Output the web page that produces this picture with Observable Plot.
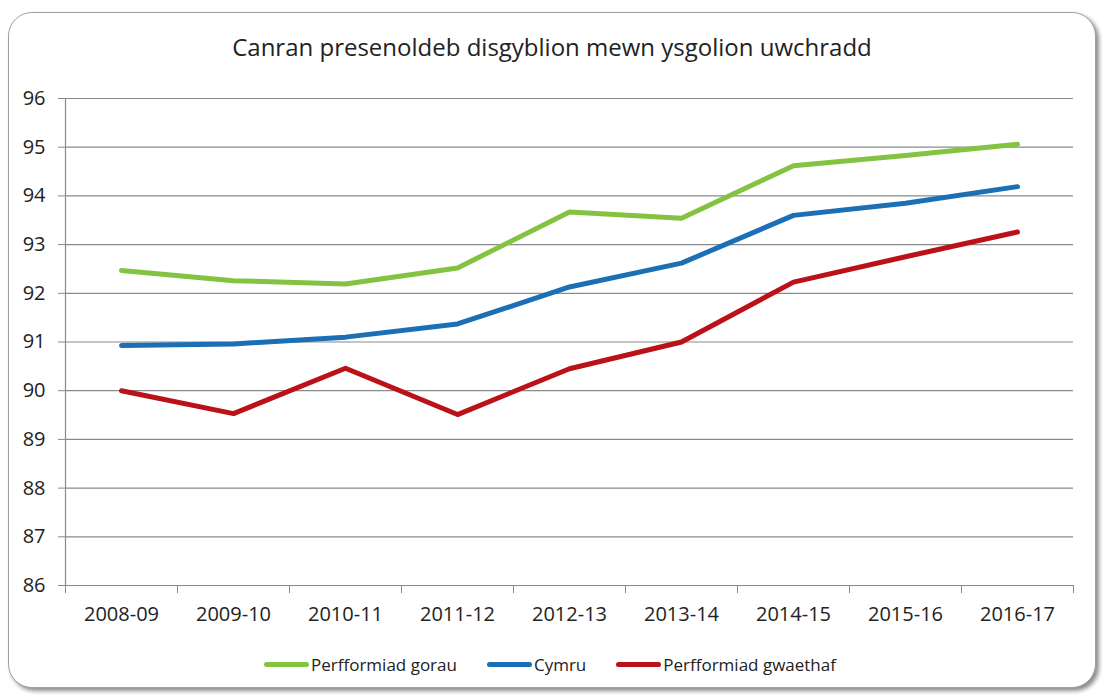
<!DOCTYPE html>
<html>
<head>
<meta charset="utf-8">
<script src="https://cdn.jsdelivr.net/npm/d3@7"></script>
<script src="https://cdn.jsdelivr.net/npm/@observablehq/plot@0.6"></script>
<style>
  html, body { margin: 0; padding: 0; background: #fff; }
  body { width: 1104px; height: 696px; position: relative; overflow: hidden; font-family: "Open Sans", sans-serif; }
  #frame { position: absolute; left: 8px; top: 12px; width: 1086px; height: 674px; border: 1px solid #a0a0a0; border-radius: 24px; box-shadow: 3px 3px 4px rgba(0,0,0,0.45); background: #fff; }
  #title { position: absolute; left: 0; width: 1104px; top: 30px; text-align: center; font-size: 24px; color: #222; }
  #chart { position: absolute; left: 0; top: 0; }
  #legend { position: absolute; left: -2px; width: 1104px; top: 651px; height: 26px; display: flex; justify-content: center; align-items: center; gap: 30px; font-size: 17px; color: #222; }
  .item { display: flex; align-items: center; }
  .sw { width: 45px; height: 5px; border-radius: 3px; margin-right: 2px; }
</style>
</head>
<body>
<div id="frame"></div>
<div id="title"></div>
<div id="chart"></div>
<div id="legend"></div>
<script>
const titleText = "Canran presenoldeb disgyblion mewn ysgolion uwchradd";
const seasons = ["2008-09","2009-10","2010-11","2011-12","2012-13","2013-14","2014-15","2015-16","2016-17"];
const seriesNames = ["Perfformiad gorau", "Cymru", "Perfformiad gwaethaf"];
const seriesColors = ["#84c341", "#1b6fb5", "#bb1118"];
const best  = [92.47, 92.26, 92.19, 92.52, 93.67, 93.54, 94.62, 94.83, 95.06];
const wales = [90.93, 90.96, 91.10, 91.37, 92.13, 92.62, 93.60, 93.85, 94.19];
const worst = [90.00, 89.53, 90.46, 89.51, 90.45, 91.00, 92.23, 92.75, 93.26];
const yTicks = [86, 87, 88, 89, 90, 91, 92, 93, 94, 95, 96];

document.getElementById("title").textContent = titleText;

const allSeries = [best, wales, worst];
const rows = [];
allSeries.forEach((vals, s) => vals.forEach((v, i) => rows.push({series: seriesNames[s], i, v})));
const idx = seasons.map((d, i) => i);
const bounds = [...idx.map(i => i - 0.5), seasons.length - 0.5];

const grey = "#8a8a8a";
const chart = Plot.plot({
  width: 1104,
  height: 640,
  marginLeft: 65,
  marginRight: 31,
  marginTop: 98,
  marginBottom: 55,
  style: {fontFamily: "'Open Sans', sans-serif", fontSize: "20px", color: "#222", background: "transparent"},
  x: {type: "linear", domain: [-0.5, seasons.length - 0.5]},
  y: {domain: [86, 96]},
  color: {domain: seriesNames, range: seriesColors},
  marks: [
    Plot.ruleY(yTicks, {stroke: grey, strokeWidth: 1.2}),
    Plot.ruleX([-0.5], {y1: 86, y2: 96, stroke: grey, strokeWidth: 1.2}),
    Plot.axisY({ticks: yTicks, tickSize: 7, tickPadding: 13, stroke: grey, fill: "#222", label: null, fontSize: 20}),
    Plot.axisX({ticks: bounds, tickSize: 8, tickFormat: () => "", stroke: grey, label: null}),
    Plot.axisX({ticks: idx, tickSize: 0, tickPadding: 21, tickFormat: i => seasons[i], fill: "#222", label: null, fontSize: 20}),
    Plot.line(rows, {x: "i", y: "v", z: "series", stroke: "series", strokeWidth: 5, strokeLinejoin: "round", strokeLinecap: "round"})
  ]
});
document.getElementById("chart").appendChild(chart);

const legend = document.getElementById("legend");
seriesNames.forEach((n, k) => {
  const it = document.createElement("div");
  it.className = "item";
  const sw = document.createElement("span");
  sw.className = "sw";
  sw.style.background = seriesColors[k];
  const tx = document.createElement("span");
  tx.textContent = n;
  it.appendChild(sw); it.appendChild(tx);
  legend.appendChild(it);
});
</script>
</body>
</html>
